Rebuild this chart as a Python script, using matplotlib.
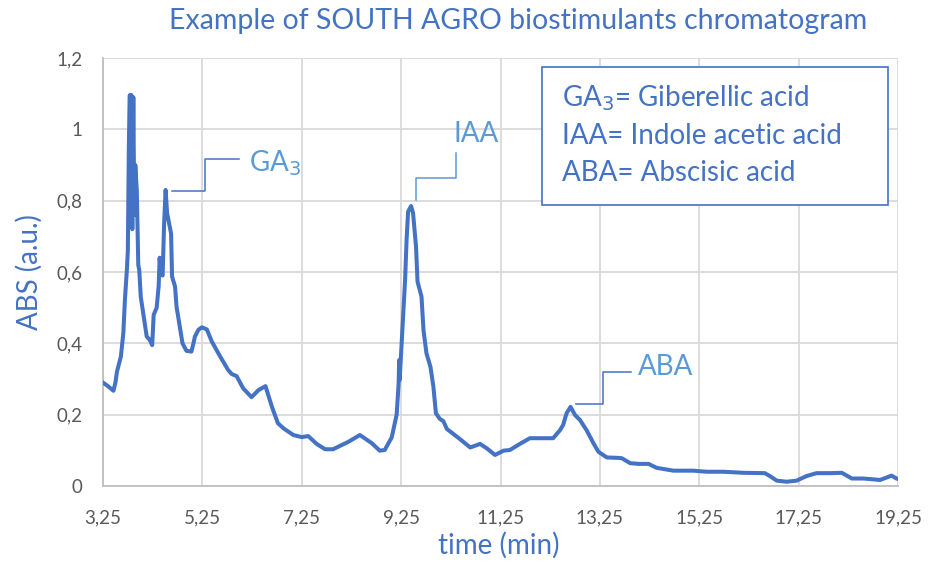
import numpy as np
import matplotlib.pyplot as plt

plt.rcParams['font.family'] = ['Lato', 'DejaVu Sans']

# chromatogram trace
time_min = [3.25, 3.35, 3.46, 3.50, 3.53, 3.61, 3.66, 3.69, 3.73, 3.75,
            3.77, 3.79, 3.80, 3.82, 3.84, 3.86, 3.88, 3.90, 3.93, 3.96,
            3.98, 4.01, 4.06, 4.13, 4.19, 4.24, 4.27, 4.30, 4.33, 4.37,
            4.39, 4.41, 4.45, 4.48, 4.51, 4.54, 4.62, 4.64, 4.70, 4.73,
            4.85, 4.93, 5.03, 5.07, 5.10, 5.17, 5.24, 5.34, 5.44, 5.60,
            5.77, 5.84, 5.94, 6.07, 6.24, 6.38, 6.52, 6.65, 6.77, 6.88,
            7.08, 7.25, 7.38, 7.55, 7.72, 7.88, 8.19, 8.42, 8.66, 8.82,
            8.92, 9.06, 9.16, 9.20, 9.21, 9.22, 9.26, 9.28, 9.33, 9.36,
            9.39, 9.45, 9.49, 9.55, 9.58, 9.66, 9.70, 9.76, 9.84, 9.90,
            9.95, 10.03, 10.10, 10.17, 10.43, 10.64, 10.84, 10.97, 11.14, 11.31,
            11.44, 11.64, 11.84, 12.08, 12.31, 12.45, 12.51, 12.58, 12.66, 12.75,
            12.85, 12.98, 13.12, 13.22, 13.39, 13.59, 13.69, 13.86, 14.03, 14.23,
            14.39, 14.73, 15.13, 15.40, 15.73, 16.14, 16.57, 16.67, 16.81, 17.01,
            17.21, 17.41, 17.61, 17.88, 18.12, 18.32, 18.55, 18.89, 19.12, 19.22,
            19.25]
abs_au = [0.290, 0.280, 0.267, 0.290, 0.320, 0.363, 0.430, 0.520, 0.605, 0.660,
          0.950, 1.096, 0.750, 1.096, 0.720, 1.090, 0.760, 0.900, 0.830, 0.620,
          0.605, 0.530, 0.484, 0.419, 0.410, 0.395, 0.480, 0.490, 0.500, 0.560,
          0.640, 0.600, 0.590, 0.736, 0.830, 0.765, 0.708, 0.587, 0.559, 0.503,
          0.400, 0.379, 0.377, 0.400, 0.419, 0.438, 0.445, 0.439, 0.405, 0.365,
          0.325, 0.314, 0.308, 0.274, 0.249, 0.269, 0.280, 0.222, 0.176, 0.162,
          0.143, 0.137, 0.140, 0.118, 0.103, 0.103, 0.124, 0.143, 0.120, 0.099,
          0.101, 0.136, 0.200, 0.288, 0.353, 0.297, 0.400, 0.456, 0.578, 0.690,
          0.769, 0.785, 0.765, 0.671, 0.573, 0.531, 0.437, 0.372, 0.334, 0.278,
          0.204, 0.188, 0.182, 0.160, 0.132, 0.108, 0.118, 0.106, 0.087, 0.099,
          0.101, 0.118, 0.134, 0.134, 0.134, 0.157, 0.171, 0.204, 0.222, 0.199,
          0.185, 0.157, 0.120, 0.096, 0.080, 0.079, 0.078, 0.064, 0.062, 0.062,
          0.051, 0.043, 0.043, 0.040, 0.040, 0.037, 0.036, 0.028, 0.015, 0.012,
          0.015, 0.028, 0.036, 0.036, 0.037, 0.021, 0.021, 0.017, 0.029, 0.021,
          0.020]

xticks = [3.25, 5.25, 7.25, 9.25, 11.25, 13.25, 15.25, 17.25, 19.25]
yticks = [0, 0.2, 0.4, 0.6, 0.8, 1.0, 1.2]

# peak labels: text, leader path (x list, y list), text anchor
peak_names = ['GA$_3$', 'IAA', 'ABA']
leader_x = [[4.64, 5.31, 5.31, 5.99], [9.55, 9.55, 10.35, 10.35], [12.77, 13.31, 13.31, 13.88]]
leader_y = [[0.827, 0.827, 0.918, 0.918], [0.802, 0.864, 0.864, 0.934], [0.230, 0.230, 0.320, 0.320]]
label_xy = [(6.19, 0.906), (10.31, 0.987), (14.02, 0.334)]
leader_col = ['#4472C4', '#5B9BD5', '#4472C4']

legend_lines = ['GA$_3$= Giberellic acid', 'IAA= Indole acetic acid', 'ABA= Abscisic acid']

fig = plt.figure(figsize=(9.31, 5.63), dpi=100)
ax = fig.add_axes([103/931, 1 - 486/563, 795/931, 428/563])

ax.plot(time_min, abs_au, color='#4472C4', lw=2.9, solid_joinstyle='round', zorder=3)

for name, lx, ly, (tx, ty), c in zip(peak_names, leader_x, leader_y, label_xy, leader_col):
    ax.plot(lx, ly, color=c, lw=1.1, zorder=2)
    ax.text(tx, ty, name, color='#5B9BD5', fontsize=20, va='center', ha='left')

ax.set_xlim(3.25, 19.25)
ax.set_ylim(0, 1.2)
ax.set_xticks(xticks)
ax.set_yticks(yticks)
ax.set_xticklabels([f'{v:.2f}'.replace('.', ',') for v in xticks])
ax.set_yticklabels(['0', '0,2', '0,4', '0,6', '0,8', '1', '1,2'])
ax.tick_params(length=0, labelsize=13.5, labelcolor='#595959')
ax.tick_params(axis='x', pad=17)
ax.tick_params(axis='y', pad=15)
ax.grid(True, color='#D9D9D9', lw=1.3)
ax.set_axisbelow(True)
for s in ['top', 'right']:
    ax.spines[s].set_visible(False)
for s in ['left', 'bottom']:
    ax.spines[s].set_color('#BFBFBF')
    ax.spines[s].set_linewidth(1.3)

fig.text(499/931, 1 - 545/563, 'time (min)', color='#4472C4', fontsize=20,
         ha='center', va='center')
fig.text(29/931, 1 - 272/563, 'ABS (a.u.)', color='#4472C4', fontsize=20,
         ha='center', va='center', rotation=90)
fig.text(518/931, 1 - 21/563, 'Example of SOUTH AGRO biostimulants chromatogram',
         color='#4472C4', fontsize=20.5, ha='center', va='center')

# definitions box
box = plt.Rectangle((542/931, 1 - 205/563), 346/931, 138/563, transform=fig.transFigure,
                    fill=True, facecolor='white', edgecolor='#4472C4', lw=1.2, zorder=5)
fig.add_artist(box)
for i, line in enumerate(legend_lines):
    fig.text(562/931, 1 - (98 + 37.5*i)/563, line, color='#4472C4', fontsize=20,
             ha='left', va='center', zorder=6)

fig.savefig('out.png', dpi=100)
